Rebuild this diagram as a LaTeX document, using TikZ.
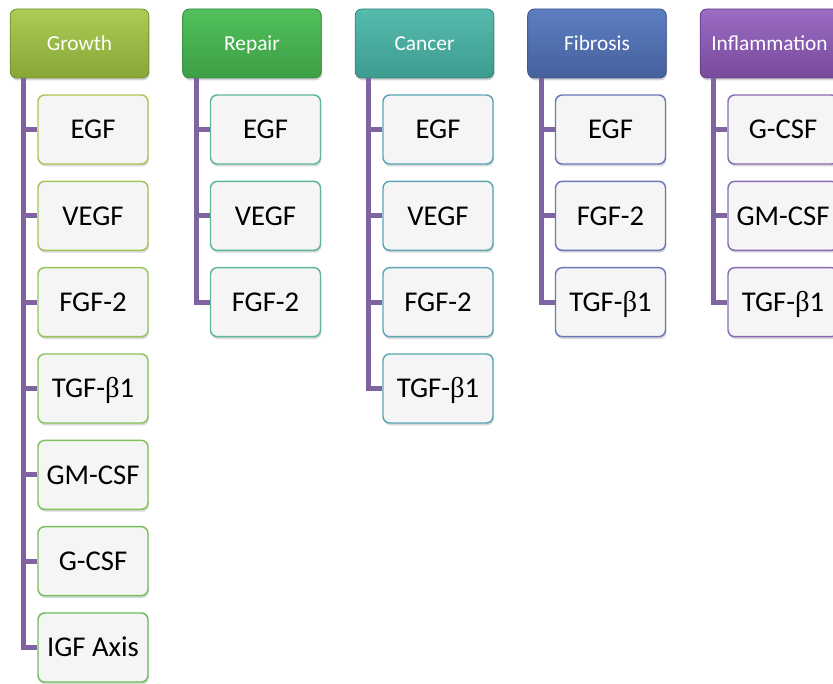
\documentclass[tikz,border=0pt]{standalone}
\usepackage{fontspec}
\setmainfont{Carlito}
\newfontfamily\betafont{Liberation Serif}
\usetikzlibrary{positioning,shadows}
\definecolor{linkpurple}{HTML}{8064A2}
\definecolor{growthA}{HTML}{AACC55}
\definecolor{growthB}{HTML}{88A637}
\definecolor{repairA}{HTML}{52C05C}
\definecolor{repairB}{HTML}{3C9F45}
\definecolor{cancerA}{HTML}{55BBAD}
\definecolor{cancerB}{HTML}{3D9B8F}
\definecolor{fibroA}{HTML}{5C7EC2}
\definecolor{fibroB}{HTML}{46609C}
\definecolor{inflamA}{HTML}{9A6CC4}
\definecolor{inflamB}{HTML}{784A9A}
\definecolor{growthEdgeA}{HTML}{A9C655}
\definecolor{growthEdgeB}{HTML}{6CBF5C}
\definecolor{repairEdge}{HTML}{5DB891}
\definecolor{cancerEdge}{HTML}{5CA6B6}
\definecolor{fibroEdge}{HTML}{6A78BA}
\definecolor{inflamEdge}{HTML}{8A6AB4}

\begin{document}
\begin{tikzpicture}[x=0.75pt,y=0.75pt,
  head/.style 2 args={rounded corners=5pt, minimum width=104pt, minimum height=51.75pt,
    top color=#1, bottom color=#2, draw=#2!85!black, line width=0.6pt, text=white,
    font=\fontsize{16}{18}\selectfont, text height=10.3pt, text depth=0pt,
    drop shadow={opacity=0.35, shadow xshift=0.6pt, shadow yshift=-1.8pt}},
  leaf/.style={rounded corners=5pt, minimum width=82.5pt, minimum height=51.75pt,
    fill=black!4, draw=#1, line width=1.1pt, text=black,
    font=\fontsize{21.5}{24}\selectfont, text height=13.9pt, text depth=0pt,
    drop shadow={opacity=0.3, shadow xshift=0.6pt, shadow yshift=-1.8pt}},
  link/.style={linkpurple, line width=3.75pt}]
\useasboundingbox (0,0) rectangle (833,-684);

% Growth
\node[head={growthA}{growthB}] (hg) at (79.5,-43.5) {Growth};
\coordinate (g0) at ([xshift=10.125pt]hg.south);
\coordinate (gl) at ([xshift=10.5pt]hg.south west);
\foreach \t [count=\i, evaluate=\i as \j using int(\i-1), evaluate=\i as \p using int(100*(\i-1)/6)]
    in {EGF,VEGF,FGF-2,TGF-{\betafont β}1,GM-CSF,G-CSF,IGF Axis} {
  \node[leaf=growthEdgeB!\p!growthEdgeA, below=11.9pt of g\j] (g\i) {\t};
  \draw[link] (gl) |- (g\i.west);
}

% Repair
\node[head={repairA}{repairB}] (hr) at (252,-43.5) {Repair};
\coordinate (r0) at ([xshift=10.125pt]hr.south);
\coordinate (rl) at ([xshift=10.5pt]hr.south west);
\foreach \t [count=\i, evaluate=\i as \j using int(\i-1)] in {EGF,VEGF,FGF-2} {
  \node[leaf=repairEdge, below=11.9pt of r\j] (r\i) {\t};
  \draw[link] (rl) |- (r\i.west);
}

% Cancer
\node[head={cancerA}{cancerB}] (hc) at (424.5,-43.5) {Cancer};
\coordinate (c0) at ([xshift=10.125pt]hc.south);
\coordinate (cl) at ([xshift=10.5pt]hc.south west);
\foreach \t [count=\i, evaluate=\i as \j using int(\i-1)] in {EGF,VEGF,FGF-2,TGF-{\betafont β}1} {
  \node[leaf=cancerEdge, below=11.9pt of c\j] (c\i) {\t};
  \draw[link] (cl) |- (c\i.west);
}

% Fibrosis
\node[head={fibroA}{fibroB}] (hf) at (597,-43.5) {Fibrosis};
\coordinate (f0) at ([xshift=10.125pt]hf.south);
\coordinate (fl) at ([xshift=10.5pt]hf.south west);
\foreach \t [count=\i, evaluate=\i as \j using int(\i-1)] in {EGF,FGF-2,TGF-{\betafont β}1} {
  \node[leaf=fibroEdge, below=11.9pt of f\j] (f\i) {\t};
  \draw[link] (fl) |- (f\i.west);
}

% Inflammation
\node[head={inflamA}{inflamB}] (hi) at (769.5,-43.5) {Inflammation};
\coordinate (i0) at ([xshift=10.125pt]hi.south);
\coordinate (il) at ([xshift=10.5pt]hi.south west);
\foreach \t [count=\i, evaluate=\i as \j using int(\i-1)] in {G-CSF,GM-CSF,TGF-{\betafont β}1} {
  \node[leaf=inflamEdge, below=11.9pt of i\j] (i\i) {\t};
  \draw[link] (il) |- (i\i.west);
}
\end{tikzpicture}
\end{document}
